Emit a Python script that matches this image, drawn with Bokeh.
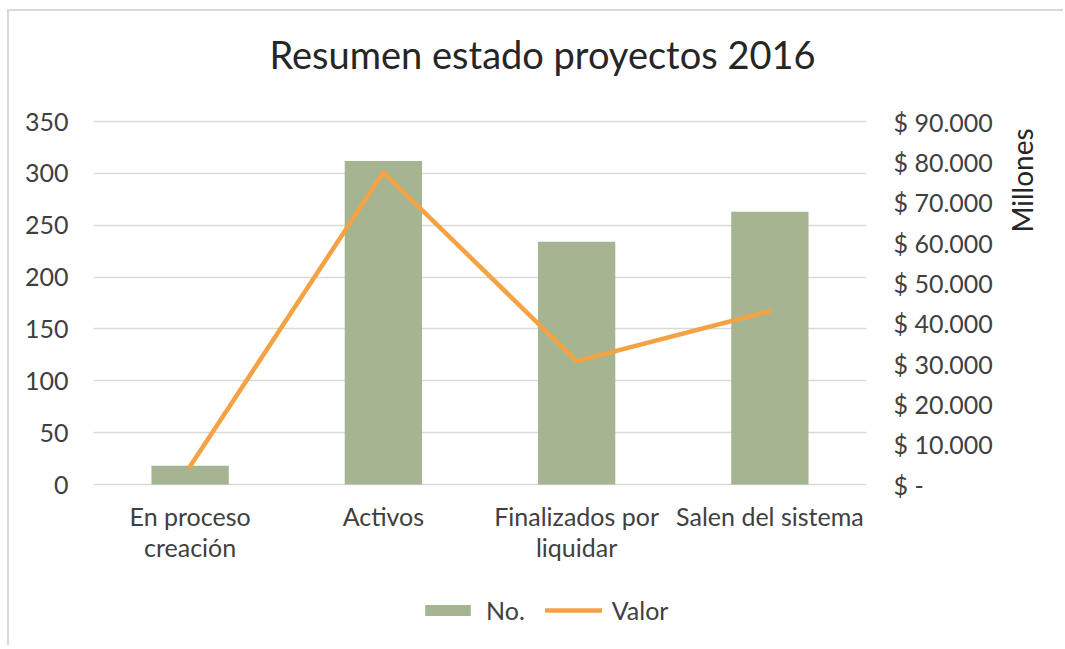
import math
from bokeh.plotting import figure
from bokeh.models import (Range1d, LinearAxis, Legend, LegendItem, FactorRange,
                          FixedTicker, CustomJSTickFormatter, Label)
from bokeh.core.properties import value
from bokeh.embed import file_html
from bokeh.resources import INLINE

# ---- data ----
categories = ["En proceso\ncreación", "Activos", "Finalizados por\nliquidar", "Salen del sistema"]
counts = [18, 312, 234, 263]                 # No.
valor_millones = [4500, 77400, 30600, 43000]  # Valor (millones)
left_ticks = [0, 50, 100, 150, 200, 250, 300, 350]
right_ticks = [0, 10000, 20000, 30000, 40000, 50000, 60000, 70000, 80000, 90000]
right_labels = ["$ -", "$ 10.000", "$ 20.000", "$ 30.000", "$ 40.000", "$ 50.000",
                "$ 60.000", "$ 70.000", "$ 80.000", "$ 90.000"]
title_text = "Resumen estado proyectos 2016"
right_axis_title = "Millones"

FONT = "Lato"
TXT = "#404040"
GREEN = "#a5b592"
ORANGE = "#f4a244"
GRID = "#d9d9d9"
FS = "25px"

# layout: the plotting frame spans the whole figure height so that the title,
# category labels and legend can be placed inside it; the value axes only
# show ticks for the visible scale (0..max).
FIG_H = 636
ABOVE_PX = 110         # pixels from frame top to top tick
AXIS_PX = 363          # pixels between 0 and the top tick
BELOW_PX = FIG_H - ABOVE_PX - AXIS_PX
LEFT_MAX = 350
RIGHT_MAX = 90000
left_lo = -BELOW_PX * LEFT_MAX / AXIS_PX
left_hi = LEFT_MAX + ABOVE_PX * LEFT_MAX / AXIS_PX
right_lo = -BELOW_PX * RIGHT_MAX / AXIS_PX
right_hi = RIGHT_MAX + ABOVE_PX * RIGHT_MAX / AXIS_PX

p = figure(x_range=FactorRange(*categories), y_range=Range1d(left_lo, left_hi),
           width=1056, height=FIG_H, output_backend="svg", toolbar_location=None,
           x_axis_location=None,
           min_border_left=84, min_border_right=199, min_border_top=0,
           min_border_bottom=0)
p.styles = {"border-left": "2px solid #d9d9d9", "border-top": "2px solid #d9d9d9",
            "margin-left": "7px", "margin-top": "9px"}
p.outline_line_color = None
p.extra_y_ranges = {"val": Range1d(right_lo, right_hi)}

bars = p.vbar(x=categories, top=counts, bottom=0, width=0.4, color=GREEN, line_color=None)
line = p.line(x=categories, y=valor_millones, y_range_name="val",
              line_color=ORANGE, line_width=4.5, line_cap="round", line_join="round")

# category labels under the baseline
p.text(x=categories, y=[0] * len(categories), text=categories, y_offset=16,
       text_align="center", text_baseline="top", text_font=value(FONT),
       text_font_size=FS, text_color=TXT, text_line_height=1.06)

# chart title
p.add_layout(Label(x=449, y=FIG_H - 42, x_units="screen", y_units="screen",
                   text=title_text, text_font=FONT, text_font_size="38px",
                   text_color="#262626", text_align="center",
                   text_baseline="alphabetic"))

# axes
def style_axis(ax, standoff):
    ax.axis_line_color = None
    ax.major_tick_line_color = None
    ax.minor_tick_line_color = None
    ax.major_tick_out = 0
    ax.major_tick_in = 0
    ax.minor_tick_out = 0
    ax.major_label_text_font = FONT
    ax.major_label_text_font_size = FS
    ax.major_label_text_color = TXT
    ax.major_label_standoff = standoff

p.yaxis.ticker = FixedTicker(ticks=left_ticks)
style_axis(p.yaxis[0], 25)

rax = LinearAxis(y_range_name="val", ticker=FixedTicker(ticks=right_ticks),
                 formatter=CustomJSTickFormatter(args=dict(tvals=right_ticks, tlabels=right_labels),
                                                 code="const i = tvals.indexOf(tick); return i >= 0 ? tlabels[i] : '';"))
style_axis(rax, 27)
p.add_layout(rax, "right")

# secondary axis title, reading bottom-to-top near the top of the axis
p.add_layout(Label(x=26, y=FIG_H - 169, x_units="screen", y_units="screen",
                   text=right_axis_title, angle=math.pi / 2,
                   text_font=FONT, text_font_size="28px", text_color="#262626",
                   text_align="center", text_baseline="middle"), "right")

p.xgrid.grid_line_color = None
p.ygrid.ticker = FixedTicker(ticks=left_ticks)
p.ygrid.grid_line_color = GRID
p.ygrid.grid_line_width = 1.5

legend = Legend(items=[LegendItem(label="No.", renderers=[bars]),
                       LegendItem(label="Valor", renderers=[line])],
                orientation="horizontal", location=(326, 22),
                glyph_width=57, glyph_height=14, label_standoff=10, spacing=20,
                padding=0, margin=0, border_line_color=None, background_fill_alpha=0,
                label_text_font=FONT, label_text_font_size=FS, label_text_color=TXT)
p.add_layout(legend, "center")

open("out.html", "w").write(file_html(p, INLINE))
